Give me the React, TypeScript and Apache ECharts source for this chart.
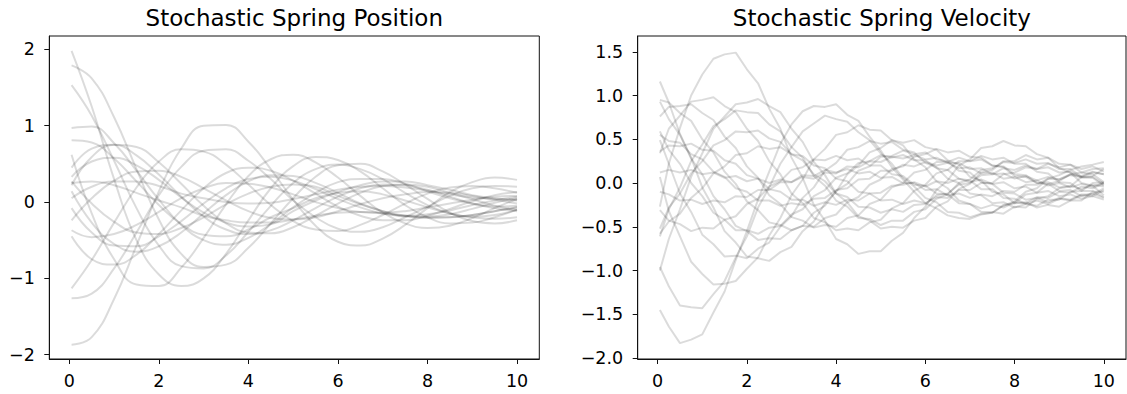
import { useEffect, useRef } from 'react';
import * as echarts from 'echarts';

// time grids
const posT = [0.05, 0.5, 1, 1.5, 2, 2.5, 3, 3.5, 4, 4.5, 5, 5.5, 6, 6.5, 7, 7.5, 8, 8.5, 9, 9.5, 10];
const velT = [0.05, 0.25, 0.5, 0.75, 1, 1.25, 1.5, 1.75, 2, 2.25, 2.5, 2.75, 3, 3.25, 3.5, 3.75, 4, 4.25, 4.5, 4.75, 5,
  5.25, 5.5, 5.75, 6, 6.25, 6.5, 6.75, 7, 7.25, 7.5, 7.75, 8, 8.25, 8.5, 8.75, 9, 9.25, 9.5, 9.75, 10];

const xTicks = [0, 2, 4, 6, 8, 10];
const posTicks = [-2, -1, 0, 1, 2];
const velTicks = [-2, -1.5, -1, -0.5, 0, 0.5, 1, 1.5];

// position runs (values at posT)
const positionRuns: number[][] = [
  [1.98, 1.25, 0.3, -0.5, -0.95, -1.1, -1.0, -0.68, -0.24, 0.18, 0.47, 0.59, 0.55, 0.4, 0.18, -0.04, -0.2, -0.28, -0.27, -0.2, -0.1],
  [1.79, 1.62, 1.11, 0.43, -0.23, -0.68, -0.85, -0.82, -0.6, -0.28, 0.05, 0.33, 0.48, 0.5, 0.4, 0.23, 0.04, -0.14, -0.25, -0.28, -0.24],
  [1.53, 1.13, 0.54, -0.08, -0.57, -0.84, -0.87, -0.7, -0.39, -0.05, 0.25, 0.43, 0.49, 0.43, 0.3, 0.12, -0.04, -0.15, -0.19, -0.17, -0.1],
  [0.97, 0.99, 0.77, 0.41, 0.03, -0.3, -0.5, -0.56, -0.47, -0.29, -0.07, 0.12, 0.26, 0.3, 0.3, 0.24, 0.14, 0.05, -0.02, -0.06, -0.05],
  [0.81, 0.78, 0.57, 0.27, -0.04, -0.29, -0.43, -0.45, -0.36, -0.2, -0.08, 0.05, 0.12, 0.14, 0.1, 0.02, -0.07, -0.15, -0.2, -0.22, -0.2],
  [0.62, -0.15, -0.75, -1.08, -1.1, -0.86, -0.47, -0.03, 0.34, 0.56, 0.62, 0.52, 0.32, 0.08, -0.14, -0.28, -0.34, -0.31, -0.21, -0.08, 0.04],
  [0.45, 0.7, 0.75, 0.61, 0.36, 0.07, -0.19, -0.36, -0.42, -0.37, -0.24, -0.08, 0.07, 0.18, 0.23, 0.22, 0.16, 0.07, -0.02, -0.08, -0.12],
  [0.33, 0.53, 0.58, 0.48, 0.29, 0.06, -0.14, -0.27, -0.32, -0.29, -0.12, 0.02, 0.13, 0.22, 0.27, 0.27, 0.22, 0.16, 0.09, 0.05, 0.03],
  [0.27, -0.02, -0.26, -0.4, -0.42, -0.34, -0.2, -0.03, 0.11, 0.2, 0.23, 0.2, 0.08, -0.03, -0.12, -0.18, -0.21, -0.2, -0.17, -0.12, -0.07],
  [0.22, 0.59, 0.75, 0.72, 0.52, 0.24, -0.05, -0.28, -0.4, -0.41, -0.33, -0.18, -0.02, 0.12, 0.21, 0.23, 0.2, 0.12, 0.04, -0.05, -0.1],
  [0.14, -0.27, -0.55, -0.65, -0.58, -0.4, -0.15, 0.09, 0.27, 0.35, 0.34, 0.25, 0.12, -0.02, -0.12, -0.19, -0.19, -0.16, -0.09, -0.01, 0.05],
  [0.05, 0.2, 0.27, 0.27, 0.21, 0.11, 0.05, 0, -0.02, -0.01, 0.04, 0.1, 0.16, 0.2, 0.21, 0.19, 0.15, 0.1, 0.06, 0.04, 0.02],
  [-0.08, -0.4, -0.57, -0.58, -0.45, -0.25, -0.02, 0.18, 0.3, 0.33, 0.28, 0.17, 0.04, -0.07, -0.15, -0.18, -0.16, -0.11, -0.04, 0.02, 0.07],
  [-0.24, 0.05, 0.28, 0.4, 0.41, 0.33, 0.18, 0.02, -0.12, -0.21, -0.23, -0.2, -0.12, -0.03, 0.05, 0.1, 0.13, 0.12, 0.08, 0.03, -0.02],
  [-0.37, -0.46, -0.42, -0.3, -0.13, 0.05, 0.18, 0.25, 0.24, 0.19, 0.1, 0, -0.08, -0.13, -0.14, -0.12, -0.07, -0.02, 0.03, 0.07, 0.08],
  [-0.45, -0.75, -0.82, -0.69, -0.42, -0.11, 0.18, 0.38, 0.45, 0.41, 0.28, 0.11, -0.06, -0.18, -0.24, -0.24, -0.18, -0.09, 0.01, 0.09, 0.13],
  [-1.13, -0.76, -0.27, 0.19, 0.53, 0.69, 0.66, 0.49, 0.23, -0.04, -0.25, -0.36, -0.38, -0.3, -0.17, -0.02, 0.11, 0.19, 0.21, 0.18, 0.12],
  [-1.26, -1.2, -0.87, -0.4, 0.09, 0.46, 0.67, 0.69, 0.54, 0.3, 0.02, -0.2, -0.35, -0.39, -0.33, -0.2, -0.06, 0.08, 0.18, 0.21, 0.2],
  [-1.87, -1.77, -1.27, -0.57, 0.14, 0.7, 1.0, 1.01, 0.79, 0.43, 0.03, -0.31, -0.52, -0.57, -0.48, -0.3, -0.08, 0.13, 0.26, 0.32, 0.29],
  [0.25, 0.27, 0.22, 0.12, 0.02, -0.07, -0.18, -0.24, -0.27, -0.27, -0.23, -0.18, -0.14, -0.13, -0.15, -0.18, -0.2, -0.2, -0.17, -0.12, -0.07],
];

// velocity runs (values at velT)
const velocityRuns: number[][] = [
  [-1.45, -1.64, -1.83, -1.79, -1.73, -1.48, -1.24, -0.88, -0.55, -0.19, 0.13, 0.45, 0.67, 0.82, 0.88, 0.87, 0.9, 0.78, 0.71, 0.53, 0.37, 0.18, 0.04, -0.1, -0.23, -0.29, -0.37, -0.4, -0.41, -0.36, -0.34, -0.26, -0.21, -0.1, -0.06, 0.05, 0.09, 0.15, 0.19, 0.21, 0.24],
  [-0.96, -1.18, -1.4, -1.42, -1.43, -1.27, -1.12, -0.85, -0.61, -0.28, -0.05, 0.22, 0.41, 0.59, 0.68, 0.77, 0.73, 0.7, 0.58, 0.49, 0.34, 0.22, 0.06, -0.04, -0.17, -0.22, -0.33, -0.34, -0.39, -0.35, -0.34, -0.25, -0.23, -0.13, -0.11, -0.01, 0.02, 0.1, 0.12, 0.16, 0.17],
  [0.07, -0.32, -0.61, -0.9, -1.04, -1.16, -1.15, -1.12, -0.98, -0.85, -0.6, -0.4, -0.14, 0.04, 0.27, 0.39, 0.55, 0.58, 0.66, 0.61, 0.6, 0.49, 0.43, 0.27, 0.18, 0.02, -0.06, -0.2, -0.24, -0.33, -0.33, -0.35, -0.27, -0.28, -0.18, -0.15, -0.06, -0.04, 0.07, 0.08, 0.16],
  [-0.27, 0.22, 0.63, 1.0, 1.24, 1.42, 1.47, 1.49, 1.3, 1.14, 0.85, 0.62, 0.29, 0.06, -0.25, -0.43, -0.64, -0.7, -0.81, -0.78, -0.78, -0.66, -0.57, -0.4, -0.27, -0.08, 0.03, 0.2, 0.27, 0.4, 0.42, 0.48, 0.43, 0.42, 0.33, 0.29, 0.17, 0.12, 0, -0.03, -0.14],
  [-1.0, -0.64, -0.3, 0.07, 0.34, 0.62, 0.76, 0.9, 0.92, 0.96, 0.88, 0.81, 0.62, 0.47, 0.24, 0.09, -0.12, -0.22, -0.38, -0.43, -0.52, -0.5, -0.51, -0.43, -0.4, -0.27, -0.21, -0.07, -0.01, 0.12, 0.15, 0.25, 0.25, 0.32, 0.27, 0.29, 0.22, 0.21, 0.12, 0.1, 0.01],
  [1.16, 0.92, 0.56, 0.29, -0.05, -0.28, -0.55, -0.68, -0.84, -0.86, -0.89, -0.79, -0.73, -0.55, -0.44, -0.23, -0.1, 0.1, 0.2, 0.35, 0.4, 0.49, 0.46, 0.49, 0.41, 0.38, 0.26, 0.21, 0.07, 0.03, -0.1, -0.13, -0.23, -0.22, -0.28, -0.25, -0.27, -0.2, -0.2, -0.1, -0.1],
  [0.95, 0.92, 0.8, 0.71, 0.5, 0.35, 0.13, -0.01, -0.21, -0.31, -0.45, -0.48, -0.54, -0.49, -0.5, -0.4, -0.36, -0.22, -0.16, -0.02, 0.04, 0.16, 0.19, 0.3, 0.33, 0.39, 0.35, 0.37, 0.3, 0.29, 0.2, 0.18, 0.08, 0.07, 0, 0.01, -0.05, -0.03, -0.07, -0.02, -0.04],
  [0.93, 0.73, 0.55, 0.28, 0.1, -0.15, -0.3, -0.49, -0.55, -0.65, -0.63, -0.64, -0.54, -0.49, -0.34, -0.26, -0.09, -0.01, 0.14, 0.19, 0.3, 0.31, 0.37, 0.33, 0.35, 0.27, 0.25, 0.14, 0.12, 0.01, -0.01, -0.11, -0.12, -0.19, -0.17, -0.22, -0.17, -0.19, -0.13, -0.13, -0.06],
  [0.76, 0.87, 0.88, 0.9, 0.8, 0.72, 0.53, 0.4, 0.19, 0.06, -0.14, -0.24, -0.39, -0.43, -0.51, -0.48, -0.5, -0.4, -0.37, -0.24, -0.19, -0.05, 0, 0.12, 0.15, 0.24, 0.24, 0.29, 0.25, 0.27, 0.2, 0.19, 0.1, 0.09, 0, -0.01, -0.09, -0.08, -0.15, -0.12, -0.17],
  [0.59, 0.38, 0.22, 0, -0.15, -0.34, -0.42, -0.54, -0.54, -0.58, -0.51, -0.49, -0.36, -0.3, -0.15, -0.08, 0.06, 0.11, 0.23, 0.25, 0.32, 0.29, 0.32, 0.26, 0.26, 0.17, 0.15, 0.05, 0.03, -0.07, -0.07, -0.17, -0.18, -0.24, -0.2, -0.24, -0.18, -0.2, -0.14, -0.15, -0.08],
  [0.55, 0.48, 0.46, 0.33, 0.27, 0.13, 0.07, -0.06, -0.1, -0.2, -0.2, -0.26, -0.23, -0.25, -0.18, -0.17, -0.08, -0.06, 0.04, 0.05, 0.14, 0.14, 0.21, 0.19, 0.24, 0.2, 0.23, 0.17, 0.18, 0.11, 0.12, 0.05, 0.07, 0.01, 0.03, -0.03, 0, -0.05, -0.01, -0.04, 0],
  [0.49, 0.22, -0.12, -0.33, -0.59, -0.7, -0.84, -0.83, -0.86, -0.75, -0.68, -0.5, -0.38, -0.17, -0.05, 0.14, 0.23, 0.38, 0.41, 0.48, 0.45, 0.47, 0.38, 0.35, 0.23, 0.18, 0.05, 0, -0.12, -0.14, -0.23, -0.22, -0.28, -0.24, -0.26, -0.19, -0.19, -0.1, -0.09, 0, 0.01],
  [0.36, 0.43, 0.42, 0.45, 0.38, 0.37, 0.26, 0.22, 0.09, 0.05, -0.07, -0.1, -0.19, -0.19, -0.26, -0.22, -0.25, -0.19, -0.2, -0.12, -0.11, -0.03, -0.02, 0.01, -0.04, 0.02, 0, 0.05, 0.01, 0.04, -0.01, 0.01, -0.06, -0.04, -0.11, -0.09, -0.15, -0.13, -0.18, -0.15, -0.19],
  [0.34, 0.62, 0.77, 0.93, 0.95, 0.98, 0.88, 0.81, 0.62, 0.48, 0.25, 0.1, -0.12, -0.23, -0.4, -0.45, -0.54, -0.52, -0.54, -0.45, -0.42, -0.29, -0.23, -0.09, -0.02, 0.11, 0.15, 0.25, 0.25, 0.31, 0.27, 0.29, 0.22, 0.22, 0.13, 0.11, 0.01, 0, -0.09, -0.09, -0.16],
  [-0.1, -0.13, -0.2, -0.19, -0.24, -0.2, -0.22, -0.15, -0.16, -0.08, -0.08, 0.01, 0.01, 0.09, 0.08, 0.15, 0.12, 0.16, 0.11, 0.13, 0.06, 0.07, 0, 0, -0.08, -0.07, -0.14, -0.12, -0.17, -0.13, -0.15, -0.09, -0.1, -0.02, -0.02, 0.05, 0.04, 0.1, 0.08, 0.13, 0.1],
  [-0.52, -0.28, -0.12, 0.11, 0.25, 0.43, 0.49, 0.59, 0.58, 0.6, 0.51, 0.47, 0.33, 0.26, 0.1, 0.02, -0.12, -0.16, -0.27, -0.28, -0.34, -0.3, -0.33, -0.25, -0.24, -0.14, -0.12, -0.02, 0, 0.09, 0.1, 0.17, 0.15, 0.2, 0.16, 0.18, 0.12, 0.13, 0.06, 0.07, -0.01],
  [-0.58, -0.44, -0.35, -0.17, -0.06, 0.11, 0.19, 0.32, 0.34, 0.42, 0.39, 0.41, 0.33, 0.31, 0.2, 0.17, 0.05, 0.02, -0.1, -0.12, -0.2, -0.19, -0.24, -0.2, -0.23, -0.16, -0.17, -0.08, -0.08, 0, 0, 0.1, 0.12, 0.18, 0.16, 0.22, 0.18, 0.21, 0.16, 0.19, 0.13],
  [-0.61, -0.3, -0.05, 0.25, 0.44, 0.65, 0.73, 0.83, 0.81, 0.8, 0.67, 0.59, 0.41, 0.29, 0.08, -0.03, -0.2, -0.27, -0.4, -0.41, -0.48, -0.43, -0.43, -0.33, -0.3, -0.18, -0.13, 0, 0.04, 0.15, 0.17, 0.24, 0.23, 0.27, 0.22, 0.23, 0.16, 0.16, 0.07, 0.06, -0.03],
  [-0.31, -0.43, -0.47, -0.55, -0.51, -0.52, -0.42, -0.38, -0.24, -0.18, -0.04, 0.02, 0.15, 0.18, 0.27, 0.26, 0.31, 0.26, 0.28, 0.2, 0.2, 0.1, 0.08, -0.02, -0.03, -0.12, -0.13, -0.23, -0.24, -0.29, -0.25, -0.28, -0.22, -0.23, -0.16, -0.17, -0.1, -0.11, -0.04, -0.06, 0],
  [0.12, 0.15, 0.12, 0.15, 0.1, 0.12, 0.06, 0.08, 0.02, 0.05, 0, 0.04, 0.01, 0.07, 0.05, 0.12, 0.11, 0.19, 0.18, 0.25, 0.24, 0.3, 0.28, 0.32, 0.27, 0.29, 0.23, 0.23, 0.16, 0.17, 0.1, 0.11, 0.05, 0.08, 0.03, 0.07, 0.04, 0.09, 0.07, 0.12, 0.1],
];

const titles = ['Stochastic Spring Position', 'Stochastic Spring Velocity'];

const FONT = 'DejaVu Sans';
const LINE = 'rgba(0,0,0,0.14)';
const FRAME = '#111';

const minusFmt = (digits: number) => (v: number) => {
  const s = Math.abs(v).toFixed(digits);
  return v < 0 ? '\u2212' + s : s;
};

export default function App() {
  const ref = useRef<HTMLDivElement>(null);
  useEffect(() => {
    document.body.style.margin = '0';
    const chart = echarts.init(ref.current!, null, { renderer: 'svg' });

    const G = [
      { left: 49.3, top: 36, width: 490, height: 323 },
      { left: 637.7, top: 36, width: 488.3, height: 323 },
    ];

    const xAxisBase = (gi: number) => ({
      type: 'value',
      gridIndex: gi,
      min: -0.4475,
      max: 10.4975,
      splitLine: { show: false },
      axisLine: { show: true, onZero: false, lineStyle: { color: FRAME, width: 1 } },
      axisTick: { show: true, inside: false, length: 5, customValues: xTicks, lineStyle: { color: FRAME, width: 1 } },
      axisLabel: {
        customValues: xTicks,
        margin: 12.5,
        fontFamily: FONT,
        fontSize: 17.5,
        color: '#000',
        formatter: (v: number) => String(v),
      },
    });

    const yAxisBase = (gi: number, min: number, max: number, ticks: number[], digits: number) => ({
      type: 'value',
      gridIndex: gi,
      min,
      max,
      splitLine: { show: false },
      axisLine: { show: true, onZero: false, lineStyle: { color: FRAME, width: 1 } },
      axisTick: { show: true, inside: false, length: 5, customValues: ticks, lineStyle: { color: FRAME, width: 1 } },
      axisLabel: {
        customValues: ticks,
        margin: 14.5,
        fontFamily: FONT,
        fontSize: 17.5,
        color: '#000',
        formatter: minusFmt(digits),
      },
    });

    const series: any[] = [];
    positionRuns.forEach((run, k) => {
      series.push({
        type: 'line',
        name: 'pos' + k,
        xAxisIndex: 0,
        yAxisIndex: 0,
        data: posT.map((t, i) => [t, run[i]]),
        showSymbol: false,
        smooth: 0.45,
        silent: true,
        lineStyle: { color: LINE, width: 2 },
      });
    });
    velocityRuns.forEach((run, k) => {
      series.push({
        type: 'line',
        name: 'vel' + k,
        xAxisIndex: 1,
        yAxisIndex: 1,
        data: velT.map((t, i) => [t, run[i]]),
        showSymbol: false,
        smooth: false,
        silent: true,
        lineStyle: { color: LINE, width: 2 },
      });
    });

    chart.setOption({
      animation: false,
      backgroundColor: '#fff',
      grid: G.map((g) => ({
        ...g,
        show: true,
        borderColor: FRAME,
        borderWidth: 1,
        backgroundColor: 'transparent',
        containLabel: false,
        outerBoundsMode: 'none',
      })),
      xAxis: [xAxisBase(0), xAxisBase(1)],
      yAxis: [
        yAxisBase(0, -2.056, 2.174, posTicks, 0),
        yAxisBase(1, -2.011, 1.68, velTicks, 1),
      ],
      graphic: titles.map((t, i) => ({
        type: 'text',
        x: G[i].left + G[i].width / 2,
        y: 17.5,
        style: {
          text: t,
          fontFamily: FONT,
          fontSize: 23,
          fill: '#000',
          textAlign: 'center',
          textVerticalAlign: 'middle',
        },
      })),
      series,
    });
    return () => chart.dispose();
  }, []);
  return <div ref={ref} style={{ position: 'absolute', left: 0, top: 0, width: 1127, height: 394 }} />;
}
